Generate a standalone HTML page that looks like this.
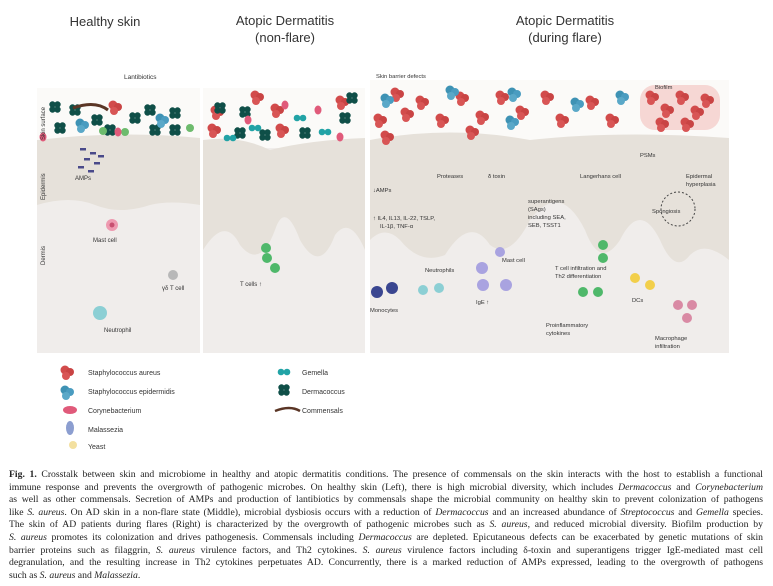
<!DOCTYPE html>
<html><head><meta charset="utf-8"><style>
body{margin:0;width:773px;height:586px;background:#fff;overflow:hidden;position:relative;font-family:"Liberation Sans",sans-serif}
.t{position:absolute;text-align:center;color:#333;font-size:13px}
.cap{position:absolute;left:9px;top:469px;width:754px;font-family:"Liberation Serif",serif;font-size:9.7px;line-height:12.6px;color:#222}
.cap div{text-align:justify;text-align-last:justify;white-space:nowrap;overflow:visible}
.cap div.l{text-align-last:left}
svg text{font-family:"Liberation Sans",sans-serif;fill:#333}
</style></head><body>
<div class="t" style="left:40px;top:14px;width:130px">Healthy skin</div>
<div class="t" style="left:210px;top:12px;width:150px;line-height:17px">Atopic Dermatitis<br>(non-flare)</div>
<div class="t" style="left:490px;top:12px;width:150px;line-height:17px">Atopic Dermatitis<br>(during flare)</div>
<svg width="773" height="470" style="position:absolute;left:0;top:0">
<defs>
<g id="sa"><circle r="4.5" fill="#d24b4b"/><circle cx="5" cy="2" r="4" fill="#c94444"/><circle cx="1" cy="6" r="4" fill="#d85555"/></g>
<g id="se"><circle r="4.5" fill="#3e92b4"/><circle cx="5" cy="2" r="4" fill="#4a9cc0"/><circle cx="1" cy="6" r="4" fill="#5aa8c8"/></g>
<g id="dm"><circle cx="-2.5" cy="-2.5" r="3.2" fill="#0f4f48"/><circle cx="2.5" cy="-2.5" r="3.2" fill="#0f4f48"/><circle cx="-2.5" cy="2.5" r="3.2" fill="#0f4f48"/><circle cx="2.5" cy="2.5" r="3.2" fill="#0f4f48"/></g>
<g id="ge"><circle cx="-3" r="3.3" fill="#21a3a6"/><circle cx="3" r="3.3" fill="#21a3a6"/></g>
<g id="co"><ellipse rx="3.5" ry="4.5" fill="#e05a7a"/></g>
</defs>
<rect x="37" y="88" width="163" height="265" fill="#f0edeb"/>
<rect x="37" y="88" width="163" height="55" fill="#fbfaf8"/>
<path d="M37 140 Q120 130 200 138 L200 205 Q170 200 150 205 Q120 215 95 205 Q70 195 37 205 Z" fill="#e6e1da"/>
<rect x="203" y="88" width="162" height="265" fill="#f0edeb"/>
<rect x="203" y="88" width="162" height="60" fill="#fbfaf8"/>
<path d="M203 140 Q240 135 270 150 Q310 140 365 138 L365 250 Q350 215 335 235 Q320 275 300 240 Q285 200 275 230 Q260 270 240 245 Q225 215 203 250 Z" fill="#e6e1da"/>
<rect x="370" y="80" width="359" height="273" fill="#f0edeb"/>
<rect x="370" y="80" width="359" height="60" fill="#fbfaf8"/>
<path d="M370 140 Q450 125 530 140 Q620 130 729 138 L729 260 Q705 240 690 255 Q675 275 660 240 Q640 200 620 240 Q600 270 585 230 Q560 180 530 220 Q510 260 490 245 Q470 215 445 255 Q420 265 400 240 Q385 225 370 240 Z" fill="#e6e1da"/>
<rect x="640" y="85" width="80" height="45" rx="15" fill="#f4c8c4" opacity=".7"/>
<g>
<use href="#dm" x="55" y="107"/><use href="#dm" x="75" y="110"/><use href="#dm" x="97" y="120"/><use href="#dm" x="135" y="118"/><use href="#dm" x="150" y="110"/><use href="#dm" x="175" y="113"/><use href="#dm" x="60" y="128"/><use href="#dm" x="110" y="130"/><use href="#dm" x="155" y="130"/><use href="#dm" x="175" y="130"/>
<use href="#se" x="80" y="123"/><use href="#se" x="160" y="118"/><use href="#sa" x="113" y="105"/>
<circle cx="103" cy="131" r="4" fill="#6dbb6d"/><circle cx="125" cy="132" r="4" fill="#6dbb6d"/><circle cx="190" cy="128" r="4" fill="#6dbb6d"/>
<use href="#co" x="118" y="132"/><use href="#co" x="43" y="137"/>
<path d="M73 108 Q95 100 108 110" stroke="#5a3525" stroke-width="3" fill="none"/>
</g>
<g fill="#4a4a8a"><rect x="80" y="148" width="6" height="2.5"/><rect x="90" y="152" width="6" height="2.5"/><rect x="84" y="158" width="6" height="2.5"/><rect x="94" y="162" width="6" height="2.5"/><rect x="78" y="166" width="6" height="2.5"/><rect x="88" y="170" width="6" height="2.5"/><rect x="98" y="155" width="6" height="2.5"/></g>
<text x="124" y="79" font-size="6.5">Lantibiotics</text>
<text x="75" y="180" font-size="6">AMPs</text>
<circle cx="112" cy="225" r="6" fill="#ee9ab0"/><circle cx="112" cy="225" r="2.5" fill="#c85070"/>
<text x="93" y="242" font-size="6">Mast cell</text>
<circle cx="173" cy="275" r="5" fill="#b8b8b8"/><text x="162" y="290" font-size="6">γδ T cell</text>
<circle cx="100" cy="313" r="7" fill="#8ccfd4"/><text x="104" y="332" font-size="6">Neutrophil</text>
<text transform="translate(45,140) rotate(-90)" font-size="6">Skin surface</text>
<text transform="translate(45,200) rotate(-90)" font-size="6">Epidermis</text>
<text transform="translate(45,265) rotate(-90)" font-size="6">Dermis</text>
<use href="#sa" x="215" y="110"/><use href="#sa" x="255" y="95"/><use href="#sa" x="275" y="108"/><use href="#sa" x="340" y="100"/><use href="#sa" x="280" y="128"/><use href="#sa" x="212" y="128"/>
<use href="#dm" x="220" y="108"/><use href="#dm" x="245" y="112"/><use href="#dm" x="265" y="135"/><use href="#dm" x="305" y="133"/><use href="#dm" x="345" y="118"/><use href="#dm" x="352" y="98"/><use href="#dm" x="240" y="133"/>
<use href="#ge" x="230" y="138"/><use href="#ge" x="300" y="118"/><use href="#ge" x="325" y="132"/><use href="#ge" x="255" y="128"/>
<use href="#co" x="248" y="120"/><use href="#co" x="318" y="110"/><use href="#co" x="340" y="137"/><use href="#co" x="285" y="105"/>
<circle cx="266" cy="248" r="5" fill="#4fb86a"/><circle cx="267" cy="258" r="5" fill="#4fb86a"/><circle cx="275" cy="268" r="5" fill="#4fb86a"/>
<text x="240" y="286" font-size="6">T cells ↑</text>
<g>
<use href="#sa" x="378" y="118"/><use href="#sa" x="395" y="92"/><use href="#sa" x="405" y="112"/><use href="#sa" x="420" y="100"/><use href="#sa" x="440" y="118"/><use href="#sa" x="460" y="96"/><use href="#sa" x="480" y="115"/><use href="#sa" x="500" y="95"/><use href="#sa" x="520" y="110"/><use href="#sa" x="545" y="95"/><use href="#sa" x="560" y="118"/><use href="#sa" x="590" y="100"/><use href="#sa" x="610" y="118"/><use href="#sa" x="385" y="135"/><use href="#sa" x="470" y="130"/>
<use href="#sa" x="650" y="95"/><use href="#sa" x="665" y="108"/><use href="#sa" x="680" y="95"/><use href="#sa" x="695" y="110"/><use href="#sa" x="660" y="122"/><use href="#sa" x="685" y="122"/><use href="#sa" x="705" y="98"/>
<use href="#se" x="385" y="98"/><use href="#se" x="450" y="90"/><use href="#se" x="510" y="120"/><use href="#se" x="575" y="102"/><use href="#se" x="620" y="95"/><use href="#se" x="512" y="92"/>
</g>
<g font-size="5.8">
<text x="376" y="78">Skin barrier defects</text><text x="655" y="89">Biofilm</text>
<text x="437" y="178">Proteases</text><text x="488" y="178">δ toxin</text><text x="580" y="178">Langerhans cell</text>
<text x="640" y="157">PSMs</text><text x="686" y="178">Epidermal</text><text x="686" y="186">hyperplasia</text>
<text x="373" y="192">↓AMPs</text><text x="373" y="220">↑ IL4, IL13, IL-22, TSLP,</text><text x="380" y="228">IL-1β, TNF-α</text>
<text x="528" y="203">superantigens</text><text x="528" y="211">(SAgs)</text><text x="528" y="219">including SEA,</text><text x="528" y="227">SEB, TSST1</text>
<text x="652" y="213">Spongiosis</text><text x="502" y="262">Mast cell</text><text x="425" y="272">Neutrophils</text>
<text x="555" y="270">T cell infiltration and</text><text x="555" y="278">Th2 differentiation</text><text x="632" y="302">DCs</text>
<text x="370" y="312">Monocytes</text><text x="476" y="304">IgE ↑</text><text x="546" y="327">Proinflammatory</text><text x="546" y="335">cytokines</text>
<text x="655" y="340">Macrophage</text><text x="655" y="348">infiltration</text>
</g>
<circle cx="678" cy="209" r="17" fill="none" stroke="#444" stroke-dasharray="2 2"/>
<circle cx="377" cy="292" r="6" fill="#3a4690"/><circle cx="392" cy="288" r="6" fill="#3a4690"/>
<circle cx="423" cy="290" r="5" fill="#8ccfd4"/><circle cx="439" cy="288" r="5" fill="#8ccfd4"/>
<circle cx="482" cy="268" r="6" fill="#a9a3e0"/><circle cx="483" cy="285" r="6" fill="#a9a3e0"/><circle cx="506" cy="285" r="6" fill="#a9a3e0"/><circle cx="500" cy="252" r="5" fill="#a9a3e0"/>
<circle cx="603" cy="245" r="5" fill="#4fb86a"/><circle cx="603" cy="258" r="5" fill="#4fb86a"/><circle cx="583" cy="292" r="5" fill="#4fb86a"/><circle cx="598" cy="292" r="5" fill="#4fb86a"/>
<circle cx="635" cy="278" r="5" fill="#f2cf4a"/><circle cx="650" cy="285" r="5" fill="#f2cf4a"/>
<circle cx="678" cy="305" r="5" fill="#d98aa4"/><circle cx="692" cy="305" r="5" fill="#d98aa4"/><circle cx="687" cy="318" r="5" fill="#d98aa4"/>
<use href="#sa" x="65" y="370"/><text x="88" y="375" font-size="7">Staphylococcus aureus</text>
<use href="#se" x="65" y="390"/><text x="88" y="394" font-size="7">Staphylococcus epidermidis</text>
<ellipse cx="70" cy="410" rx="7" ry="4" fill="#e05a7a"/><text x="88" y="413" font-size="7">Corynebacterium</text>
<ellipse cx="70" cy="428" rx="4" ry="7" fill="#8c9ed0"/><text x="88" y="432" font-size="7">Malassezia</text>
<circle cx="73" cy="445" r="4" fill="#f3e0a0"/><text x="88" y="449" font-size="7">Yeast</text>
<use href="#ge" x="284" y="372"/><text x="302" y="375" font-size="7">Gemella</text>
<use href="#dm" x="284" y="390"/><text x="302" y="394" font-size="7">Dermacoccus</text>
<path d="M275 411 Q290 405 300 411" stroke="#5a3525" stroke-width="2.5" fill="none"/><text x="302" y="413" font-size="7">Commensals</text>
</svg>
<div class="cap">
<div><b>Fig. 1.</b> Crosstalk between skin and microbiome in healthy and atopic dermatitis conditions. The presence of commensals on the skin interacts with the host to establish a functional</div>
<div>immune response and prevents the overgrowth of pathogenic microbes. On healthy skin (Left), there is high microbial diversity, which includes <i>Dermacoccus</i> and <i>Corynebacterium</i></div>
<div>as well as other commensals. Secretion of AMPs and production of lantibiotics by commensals shape the microbial community on healthy skin to prevent colonization of pathogens</div>
<div>like <i>S. aureus</i>. On AD skin in a non-flare state (Middle), microbial dysbiosis occurs with a reduction of <i>Dermacoccus</i> and an increased abundance of <i>Streptococcus</i> and <i>Gemella</i> species.</div>
<div>The skin of AD patients during flares (Right) is characterized by the overgrowth of pathogenic microbes such as <i>S. aureus</i>, and reduced microbial diversity. Biofilm production by</div>
<div><i>S. aureus</i> promotes its colonization and drives pathogenesis. Commensals including <i>Dermacoccus</i> are depleted. Epicutaneous defects can be exacerbated by genetic mutations of skin</div>
<div>barrier proteins such as filaggrin, <i>S. aureus</i> virulence factors, and Th2 cytokines. <i>S. aureus</i> virulence factors including δ-toxin and superantigens trigger IgE-mediated mast cell</div>
<div>degranulation, and the resulting increase in Th2 cytokines perpetuates AD. Concurrently, there is a marked reduction of AMPs expressed, leading to the overgrowth of pathogens</div>
<div class="l">such as <i>S. aureus</i> and <i>Malassezia</i>.</div>
</div>
</body></html>
